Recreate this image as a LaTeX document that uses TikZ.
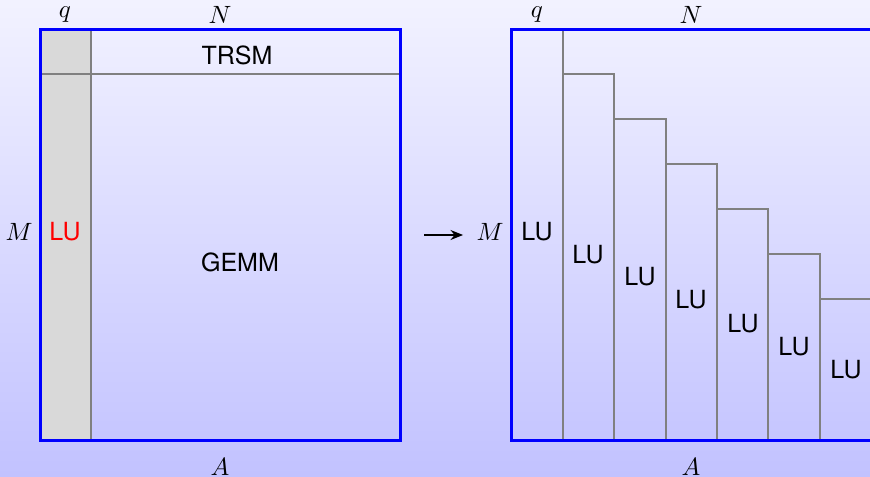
\documentclass[tikz,border=0pt]{standalone}
\usepackage{fontspec}
\setsansfont{TeX Gyre Heros}
\usetikzlibrary{arrows.meta}
\begin{document}
\begin{tikzpicture}[x=0.4pt,y=-0.4pt,
  frame/.style={draw=blue,line width=1.2pt},
  part/.style={draw=gray,line width=0.8pt},
  lbl/.style={font=\sffamily,inner sep=0pt},
  dim/.style={inner sep=0pt}]
\useasboundingbox (0,0) rectangle (870,477);
\clip (0,0) rectangle (870,477);
\shade[top color=blue!5,bottom color=blue!24] (0,0) rectangle (870,477);
% left matrix
\fill[gray!30] (40,30) rectangle (91,440);
\draw[part] (91,30) -- (91,440);
\draw[part] (40,74) -- (400,74);
\draw[frame] (40,30) rectangle (400,440);
\node[lbl] (trsm) at (237,55) {TRSM};
\node[lbl] (gemm) at (240,262) {GEMM};
\node[lbl,text=red] (lu0) at (65,232) {LU};
\node[dim] (qL) at (65,15) {$q$};
\node[dim] (nL) at (220,15) {$N$};
\node[dim] (mL) at (19,232) {$M$};
\node[dim] (aL) at (220,467) {$A$};
% arrow
\coordinate (arrS) at (424,235);
\coordinate (arrE) at (463,235);
\draw[line width=0.5pt,-{Stealth[length=5pt,width=4pt]}] (arrS) -- (arrE);
% right matrix
\node[dim] (mR) at (490,232) {$M$};
\node[dim] (qR) at (537,15) {$q$};
\node[dim] (nR) at (691,15) {$N$};
\node[dim] (aR) at (691,467) {$A$};
\draw[part] (563,30) -- (563,440);
\foreach \i/\t in {1/74,2/119,3/164,4/209,5/254,6/299}{
  \pgfmathsetmacro{\xa}{511+52+51.33*(\i-1)}
  \pgfmathsetmacro{\xb}{511+52+51.33*\i}
  \draw[part] (\xa,440) -- (\xa,\t) -- (\xb,\t) -- (\xb,440);
}
\node[lbl] (lu1) at (537,232) {LU};
\node[lbl] (lu2) at (588,255) {LU};
\node[lbl] (lu3) at (640,277) {LU};
\node[lbl] (lu4) at (691,300) {LU};
\node[lbl] (lu5) at (743,324) {LU};
\node[lbl] (lu6) at (794,347) {LU};
\node[lbl] (lu7) at (846,370) {LU};
\draw[frame] (511,30) rectangle (871,440);
\end{tikzpicture}
\end{document}
